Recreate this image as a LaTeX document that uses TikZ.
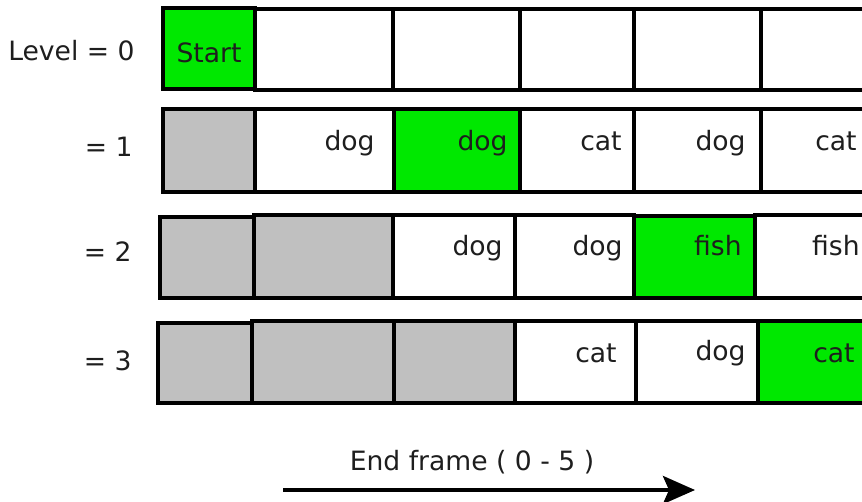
\documentclass[tikz,border=0pt]{standalone}
\usepackage{fontspec}
\setmainfont{DejaVu Sans}
\usetikzlibrary{fit,arrows.meta}
\definecolor{hit}{RGB}{0,232,0}
\definecolor{past}{RGB}{192,192,192}
\definecolor{ink}{RGB}{30,30,30}
\tikzset{
  cellbox/.style={draw=black, line width=1.8pt, inner sep=0pt},
  celltext/.style={text=ink, inner sep=0pt, font=\fontsize{13.3}{15}\selectfont},
  lvltext/.style={text=ink, inner sep=0pt, anchor=base east, font=\fontsize{13.3}{15}\selectfont},
}
\newcommand\cellbox[6]{\node[cellbox, fill=#6, fit={(#2,#3) (#4,#5)}] (#1) {};}
\newcommand\celltxt[4]{\node[celltext, anchor=base east] (#1) at (#2,#3) {#4};}
\begin{document}
\begin{tikzpicture}[x=0.5pt, y=-0.5pt]
\useasboundingbox (0,0) rectangle (862,502);
\clip (0,0) rectangle (862,502);
% level labels
\node[lvltext] (l0) at (135,61) {Level = 0};
\node[lvltext] (l1) at (133,157) {= 1};
\node[lvltext] (l2) at (132,262) {= 2};
\node[lvltext] (l3) at (132,370) {= 3};
% row 0
\cellbox{a1}{255}{9}{393}{90}{white}
\cellbox{a2}{393}{9}{520}{90}{white}
\cellbox{a3}{520}{9}{634}{90}{white}
\cellbox{a4}{634}{9}{761}{90}{white}
\cellbox{a5}{761}{9}{880}{90}{white}
\cellbox{a0}{163}{8}{255}{89}{hit}
\node[celltext, anchor=base] (a0t) at (209,63) {Start};
% row 1
\cellbox{b0}{163}{109}{255}{192}{past}
\cellbox{b1}{255}{109}{394}{192}{white}
\cellbox{b2}{394}{109}{520}{192}{hit}
\cellbox{b3}{520}{109}{634}{192}{white}
\cellbox{b4}{634}{109}{761}{192}{white}
\cellbox{b5}{761}{109}{880}{192}{white}
\celltxt{b1t}{375}{151}{dog}
\celltxt{b2t}{508}{151}{dog}
\celltxt{b3t}{622}{151}{cat}
\celltxt{b4t}{746}{151}{dog}
\celltxt{b5t}{857}{151}{cat}
% row 2
\cellbox{c0}{160}{217}{254}{298}{past}
\cellbox{c1}{254}{215}{393}{298}{past}
\cellbox{c2}{393}{215}{515}{298}{white}
\cellbox{c3}{515}{215}{634}{298}{white}
\cellbox{c5}{755}{215}{880}{298}{white}
\cellbox{c4}{634}{216}{755}{298}{hit}
\celltxt{c2t}{503}{256}{dog}
\celltxt{c3t}{623}{256}{dog}
\celltxt{c4t}{742}{256}{fish}
\celltxt{c5t}{860}{256}{fish}
% row 3
\cellbox{d0}{158}{323}{252}{403}{past}
\cellbox{d1}{252}{321}{394}{403}{past}
\cellbox{d2}{394}{321}{515}{403}{past}
\cellbox{d3}{515}{321}{636}{403}{white}
\cellbox{d4}{636}{321}{758}{403}{white}
\cellbox{d5}{758}{321}{880}{403}{hit}
\celltxt{d3t}{617}{363}{cat}
\celltxt{d4t}{746}{360}{dog}
\celltxt{d5t}{855}{363}{cat}
% axis
\node[celltext, anchor=base] (axl) at (472,470) {End frame ( 0 - 5 )};
\coordinate (axs) at (283,490);
\coordinate (axe) at (695,490);
\draw[line width=1.9pt, -{Stealth[length=16pt, width=14pt, inset=3pt]}] (axs) -- (axe);
\end{tikzpicture}
\end{document}
